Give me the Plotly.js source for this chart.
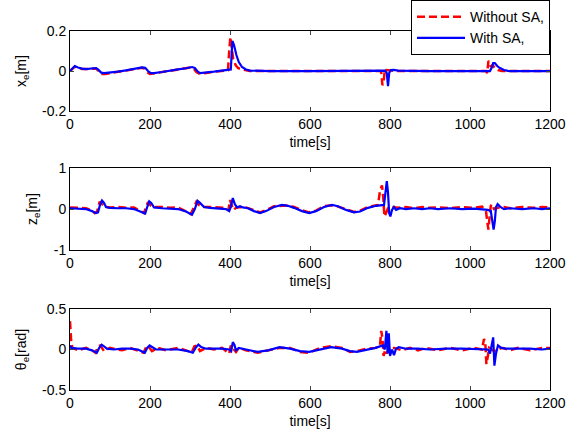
<!DOCTYPE html>
<html>
<head>
<meta charset="utf-8">
<script src="https://cdn.plot.ly/plotly-3.0.1.min.js"></script>
<style>html,body{margin:0;padding:0;background:#fff;}#chart{width:578px;height:432px;}</style>
</head>
<body>
<div id="chart"></div>
<script>
// ---- x_e [m] ----
const tXeWithout = [0,5,12,20,30,40,50,60,65,72,80,88,100,120,140,160,180,186,192,200,210,230,250,270,290,302,310,316,322,340,360,380,395,398,401,404,408,414,420,430,440,450,500,600,700,775,778,781,784,787,790,800,815,900,1000,1040,1043,1046,1049,1052,1056,1062,1070,1080,1200];
const xeWithout = [0,0.01,0.022,0.016,0.01,0.01,0.012,0.014,0.012,0,-0.015,-0.015,-0.01,-0.004,0.002,0.01,0.016,0.012,-0.005,-0.015,-0.012,-0.006,0,0.006,0.013,0.018,0.01,-0.005,-0.012,-0.01,-0.004,0.002,0.004,0.1,0.17,0.12,0.06,0.03,0.015,0.008,0.003,0,0,0,0,0,-0.005,-0.07,-0.06,0.01,0.005,0.002,0,0,0,0,-0.01,0.05,0.045,0.02,0.03,0.015,0.005,0,0];
const tXeWith = [0,5,12,20,30,40,50,60,65,70,78,85,100,120,140,160,180,188,195,202,210,230,250,270,290,305,312,318,325,340,360,380,398,402,406,410,416,422,430,440,450,500,600,700,780,788,792,795,798,802,810,820,900,1000,1040,1050,1055,1058,1062,1068,1075,1085,1095,1100,1200];
const xeWith = [0,0.01,0.025,0.018,0.012,0.01,0.012,0.015,0.015,0.008,-0.008,-0.01,-0.008,-0.003,0.003,0.01,0.018,0.016,0,-0.01,-0.01,-0.005,0,0.008,0.014,0.02,0.015,0,-0.01,-0.008,-0.003,0.002,0.005,0.008,0.15,0.13,0.08,0.045,0.02,0.008,0.002,0,0,0,0,0.002,-0.01,-0.075,-0.01,0.005,0.006,0.002,0,0,0,0,0.02,0.04,0.04,0.025,0.015,0.005,0.001,0,0];

// ---- z_e [m] ----
const tZeWithout = [0,20,40,55,62,68,74,80,88,100,120,140,160,175,185,190,195,202,210,230,250,270,290,302,310,316,322,335,350,370,390,396,400,404,408,415,425,440,460,475,490,510,530,545,560,580,598,615,635,655,670,690,710,725,745,760,770,775,780,783,786,790,795,805,820,840,860,880,900,920,950,980,1010,1030,1040,1043,1046,1049,1052,1056,1060,1070,1085,1100,1130,1160,1180,1200];
const zeWithout = [0.04,0.03,0.02,-0.04,-0.1,-0.05,0.18,0.12,0.05,0.04,0.05,0.03,0.04,-0.04,-0.1,0.05,0.17,0.08,0.05,0.05,0.03,0.04,-0.05,-0.12,0.05,0.18,0.1,0.05,0.05,0.04,0.03,-0.03,0.22,0.1,-0.02,0.03,0.05,0.04,-0.03,-0.08,-0.03,0.07,0.08,0.09,0.05,-0.03,-0.08,-0.04,0.07,0.09,0.06,0,-0.07,-0.04,0.05,0.08,0.1,0.45,0.58,0.3,-0.18,-0.1,0.02,0.05,0.03,0.05,0.02,0.05,0.03,0.04,0.02,0.05,0.03,0.06,-0.05,-0.3,-0.5,-0.2,0.08,0.12,0,0.03,0.05,0.02,0.05,0.03,0.05,0.04];
const tZeWith = [0,20,40,55,65,70,75,80,85,90,100,120,140,160,175,188,193,198,203,210,230,250,270,290,305,312,319,325,335,350,370,390,398,402,407,412,418,425,432,445,460,475,490,510,530,545,560,580,598,615,635,655,670,690,710,725,745,765,785,788,792,795,798,801,805,810,815,825,840,860,880,900,920,950,980,1010,1030,1045,1052,1056,1059,1062,1065,1069,1075,1085,1100,1130,1160,1180,1200];
const zeWith = [0.02,0.01,0,-0.05,-0.1,-0.08,0.1,0.21,0.15,0.05,0.03,0.02,0.02,0,-0.05,-0.11,0.05,0.19,0.15,0.04,0.02,0.01,0,-0.06,-0.14,0,0.2,0.15,0.05,0.03,0.02,0,-0.05,0.05,0.27,0.12,0.04,0.07,0.04,0.02,-0.05,-0.1,-0.05,0.05,0.1,0.08,0.03,-0.05,-0.1,-0.05,0.05,0.1,0.07,-0.02,-0.08,-0.06,0.03,0.08,0.1,0.3,0.68,0.4,-0.1,-0.18,-0.02,0.05,-0.02,0.02,0,0.02,0,0.02,0,0.02,0,0.01,0,-0.02,-0.05,-0.3,-0.5,-0.3,0.05,0.12,0.06,0,0.02,0,0.02,0,0.02];

// ---- theta_e [rad] ----
const tThWithout = [0,3,6,20,40,55,64,70,76,85,100,130,150,170,184,190,196,205,220,240,270,295,304,311,318,325,340,360,380,398,402,406,415,422,440,469,495,524,550,575,598,625,653,680,700,717,740,764,775,778,781,784,788,792,798,810,830,850,870,890,920,950,980,1010,1030,1035,1038,1041,1044,1048,1060,1080,1100,1120,1150,1180,1200];
const thWithout = [0.35,0.1,0.02,-0.01,0.02,-0.01,-0.04,0.04,0.05,-0.02,0.02,-0.01,0.02,-0.01,-0.04,0.03,0.04,-0.02,0.02,-0.01,0.02,-0.02,-0.04,0.04,0.05,-0.02,0.02,0,0.02,-0.05,0.05,0.02,-0.03,0.02,-0.01,-0.04,-0.01,0.02,0.02,-0.03,-0.04,0.02,0.04,0.02,-0.03,-0.02,0.01,0.02,0.05,0.23,0.15,-0.08,0,-0.05,0.02,0.02,-0.01,0.02,-0.01,0.02,-0.01,0.02,-0.01,0.02,0,0.13,0.1,-0.18,-0.1,0.02,-0.02,0.02,-0.01,0.02,-0.01,0.02,0.02];
const tThWith = [0,3,20,40,55,67,73,79,85,92,110,130,150,170,187,193,199,206,215,240,270,295,307,314,321,328,340,360,380,398,403,407,411,415,422,440,469,495,524,550,575,598,625,653,680,700,717,740,764,782,787,791,794,797,800,805,810,815,822,840,870,900,940,980,1020,1045,1050,1055,1058,1061,1065,1070,1078,1090,1120,1150,1180,1200];
const thWith = [0.05,0.02,0.01,0.01,-0.01,-0.04,0.02,0.06,0.04,0.01,0,0.01,0.01,0,-0.04,0.02,0.05,0.03,0,0,0,-0.02,-0.04,0.02,0.06,0.03,0.01,0.01,0.01,0,-0.02,0.09,0.06,-0.01,0.02,0,-0.03,-0.01,0.03,0.01,-0.02,-0.03,0,0.03,0.01,-0.02,-0.03,-0.01,0.02,0.05,0,0.23,-0.05,0.2,-0.08,0,-0.07,0.01,0.03,0.01,0.01,0,0.01,0.01,0,0,-0.05,0.1,0.15,-0.2,-0.05,0.05,0.02,0.01,0.01,0.01,0,0.01];

const seriesNames = ['Without SA,', 'With SA,'];
const xTicks = [0,200,400,600,800,1000,1200];
const xTickText = ['0','200','400','600','800','1000','1200'];
const yTicks1 = [-0.2,0,0.2], yTickText1 = ['-0.2','0','0.2'];
const yTicks2 = [-1,0,1], yTickText2 = ['-1','0','1'];
const yTicks3 = [-0.5,0,0.5], yTickText3 = ['-0.5','0','0.5'];

const FONT = 'Liberation Sans, Arial, Helvetica, sans-serif';
const FS = 14;
const redLine = {color:'#ff0000', width:2.5, dash:'8px,4px'};
const blueLine = {color:'#0000ff', width:2.2};

const traces = [
  {x:tXeWithout, y:xeWithout, xaxis:'x', yaxis:'y', mode:'lines', name:seriesNames[0], line:redLine},
  {x:tXeWith, y:xeWith, xaxis:'x', yaxis:'y', mode:'lines', name:seriesNames[1], line:blueLine},
  {x:tZeWithout, y:zeWithout, xaxis:'x2', yaxis:'y2', mode:'lines', name:seriesNames[0], line:redLine, showlegend:false},
  {x:tZeWith, y:zeWith, xaxis:'x2', yaxis:'y2', mode:'lines', name:seriesNames[1], line:blueLine, showlegend:false},
  {x:tThWithout, y:thWithout, xaxis:'x3', yaxis:'y3', mode:'lines', name:seriesNames[0], line:redLine, showlegend:false},
  {x:tThWith, y:thWith, xaxis:'x3', yaxis:'y3', mode:'lines', name:seriesNames[1], line:blueLine, showlegend:false}
];

function xa(anchor){
  return {anchor:anchor, range:[0,1200], tickvals:xTicks, ticktext:xTickText, ticks:'inside', ticklen:4,
    showline:true, linecolor:'#000', linewidth:1, mirror:'ticks', showgrid:false, zeroline:false,
    automargin:false, tickfont:{family:FONT, size:FS, color:'#000'},
    title:{text:'time[s]', font:{family:FONT, size:FS, color:'#000'}, standoff:6}};
}
function ya(anchor, dom, rng, tv, tt, title){
  return {anchor:anchor, domain:dom, range:rng, tickvals:tv, ticktext:tt, ticks:'inside', ticklen:4,
    showline:true, linecolor:'#000', linewidth:1, mirror:'ticks', showgrid:false, zeroline:false,
    automargin:false, tickfont:{family:FONT, size:FS, color:'#000'},
    title:{text:title, font:{family:FONT, size:FS, color:'#000'}, standoff:12}};
}

const layout = {
  width:578, height:432,
  margin:{l:70, r:28, t:31, b:42, autoexpand:false},
  paper_bgcolor:'#fff', plot_bgcolor:'#fff',
  showlegend:true,
  xaxis: xa('y'),
  xaxis2: xa('y2'),
  xaxis3: xa('y3'),
  yaxis: ya('x', [0.777,1.0], [-0.2,0.2], yTicks1, yTickText1, 'x<sub>e</sub>[m]'),
  yaxis2: ya('x2', [0.39,0.618], [-1,1], yTicks2, yTickText2, 'z<sub>e</sub>[m]'),
  yaxis3: ya('x3', [0,0.2256], [-0.5,0.5], yTicks3, yTickText3, '&#952;<sub>e</sub>[rad]'),
  legend:{x:1.0, xanchor:'right', y:1.086, yanchor:'top', bgcolor:'#fff', bordercolor:'#000', borderwidth:1,
    font:{family:FONT, size:FS, color:'#000'}, itemwidth:48, tracegroupgap:0},
  font:{family:FONT, size:FS, color:'#000'}
};

Plotly.newPlot('chart', traces, layout, {displayModeBar:false, staticPlot:true});
</script>
</body>
</html>
